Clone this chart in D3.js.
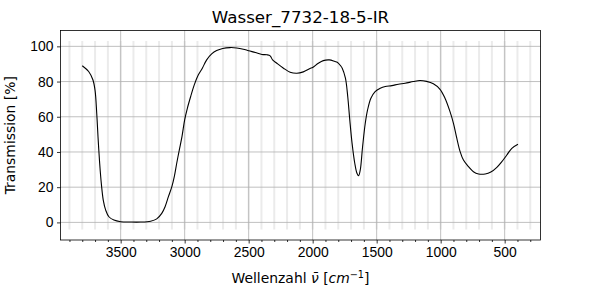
<!DOCTYPE html>
<html>
<head>
<meta charset="utf-8">
<script src="https://cdn.jsdelivr.net/npm/d3@7"></script>
<style>
  body { margin: 0; background: #fff; }
  svg { font-family: "DejaVu Sans", sans-serif; }
  .ir-axis text { font-size: 13.9px; fill: #000; }
  .ir-axis path, .ir-axis line { stroke: #000; stroke-width: 0.8; }
</style>
</head>
<body>
<svg id="chart" width="600" height="300"></svg>
<script>
// spectrum
var wavenumbers = [3800, 3750, 3717, 3700, 3687, 3677, 3664, 3651, 3636, 3617, 3592, 3553,
  3500, 3423, 3344, 3266, 3218, 3179, 3153, 3127, 3100, 3081, 3062, 3042, 3021, 3000,
  2979, 2953, 2925, 2893, 2862, 2828, 2789, 2750, 2703, 2646, 2594, 2542, 2500, 2448,
  2396, 2357, 2332, 2313, 2280, 2228, 2176, 2124, 2073, 2021, 2000, 1956, 1917, 1870,
  1826, 1808, 1782, 1769, 1744, 1726, 1710, 1692, 1671, 1654, 1641, 1628, 1610, 1589,
  1571, 1545, 1512, 1472, 1433, 1381, 1330, 1278, 1214, 1162, 1110, 1057, 1005, 966,
  927, 900, 874, 848, 822, 783, 744, 704, 652, 608, 561, 522, 483, 444, 396];
var transmission = [89, 85.7, 81, 75, 62, 48.7, 33.6, 22, 12.7, 7, 3.2, 1.3,
  0.4, 0.2, 0.2, 0.7, 2.0, 5.1, 8.9, 14.6, 20.3, 26, 33.6, 41.1, 48.7, 58.2,
  64.8, 71.5, 78.1, 83.8, 87.6, 92.3, 95.7, 97.6, 98.8, 99.3, 99.1, 98.4, 97.5, 96.5,
  95.4, 95.2, 94.6, 92.3, 90.4, 87.6, 85.3, 84.7, 85.5, 87.4, 88, 90.4, 91.9, 92.3,
  91.4, 91, 89, 87.6, 81.9, 71.5, 58.2, 44.9, 33.6, 27.9, 26.5, 29.8, 43, 56.3,
  63.9, 70.5, 74.3, 76.2, 77.2, 77.7, 78.5, 79, 80, 80.6, 80.1, 78.7, 75.6, 70.5,
  62.9, 56.3, 47.8, 40.2, 35.4, 31.7, 28.8, 27.5, 27.5, 28.6, 31.3, 34.5, 38.3, 42.1, 44.4];

var xTicks = [3500, 3000, 2500, 2000, 1500, 1000, 500];
var xMinorTicks = d3.range(300, 4000, 100);
var yTicks = [0, 20, 40, 60, 80, 100];

function drawSpectrum() {
  var svg = d3.select('#chart');
  var left = 60.5, right = 540.5, plotTop = 30.5, bottom = 240;

  var x = d3.scaleLinear().domain([3970, 220]).range([left, right]);
  var y = d3.scaleLinear().domain([-10, 109]).range([bottom, plotTop]);

  var data = wavenumbers.map(function(w, i) { return [w, transmission[i]]; });

  // light helper lines every 100 cm^-1 (5%..95% of the axes height)
  var hTop = plotTop + (bottom - plotTop) * 0.05, hBottom = bottom - (bottom - plotTop) * 0.05;
  svg.append('g').selectAll('line').data(xMinorTicks).enter()
    .append('line')
    .attr('x1', function(d) { return x(d); })
    .attr('x2', function(d) { return x(d); })
    .attr('y1', hTop)
    .attr('y2', hBottom)
    .attr('stroke', '#ebebeb')
    .attr('stroke-width', 2);

  // major grid
  var grid = svg.append('g').attr('stroke', '#b0b0b0').attr('stroke-width', 0.8);
  xTicks.forEach(function(t) {
    grid.append('line').attr('x1', x(t)).attr('x2', x(t)).attr('y1', plotTop).attr('y2', bottom);
  });
  yTicks.forEach(function(t) {
    grid.append('line').attr('x1', left).attr('x2', right).attr('y1', y(t)).attr('y2', y(t));
  });

  // spectrum
  var line = d3.line()
    .curve(d3.curveCatmullRom.alpha(0.5))
    .x(function(d) { return x(d[0]); })
    .y(function(d) { return y(d[1]); });

  svg.append('path').datum(data)
    .attr('d', line)
    .attr('fill', 'none')
    .attr('stroke', '#000')
    .attr('stroke-width', 1.1);

  // axes
  svg.append('g')
    .attr('class', 'ir-axis')
    .attr('transform', 'translate(0,' + bottom + ')')
    .call(d3.axisBottom(x).tickValues(xMinorTicks.filter(function(t) { return t % 500 !== 0; }))
      .tickSize(2).tickFormat(''))
    .call(function(g) { g.select('.domain').remove(); });

  svg.append('g')
    .attr('class', 'ir-axis')
    .attr('transform', 'translate(0,' + bottom + ')')
    .call(d3.axisBottom(x).tickValues(xTicks).tickSize(3.5).tickPadding(3.5).tickFormat(d3.format('d')))
    .call(function(g) { g.select('.domain').remove(); });

  svg.append('g')
    .attr('class', 'ir-axis')
    .attr('transform', 'translate(' + left + ',0)')
    .call(d3.axisLeft(y).tickValues(yTicks).tickSize(3.5).tickPadding(3.5).tickFormat(d3.format('d')))
    .call(function(g) { g.select('.domain').remove(); });

  // frame
  svg.append('rect')
    .attr('x', left).attr('y', plotTop)
    .attr('width', right - left).attr('height', bottom - plotTop)
    .attr('fill', 'none').attr('stroke', '#000').attr('stroke-width', 0.8);

  // texts
  svg.append('text')
    .attr('x', (left + right) / 2).attr('y', 23)
    .attr('text-anchor', 'middle')
    .style('font-size', '16.7px')
    .text('Wasser_7732-18-5-IR');

  var xl = svg.append('text')
    .attr('x', (left + right) / 2).attr('y', 283)
    .attr('text-anchor', 'middle')
    .style('font-size', '13.9px');
  xl.append('tspan').text('Wellenzahl ');
  xl.append('tspan').style('font-style', 'italic').text('\u03bd\u0304');
  xl.append('tspan').text(' [');
  xl.append('tspan').style('font-style', 'italic').text('cm');
  xl.append('tspan').attr('dy', -5).style('font-size', '9.7px').text('\u22121');
  xl.append('tspan').attr('dy', 5).text(']');

  svg.append('text')
    .attr('transform', 'translate(15,' + ((plotTop + bottom) / 2) + ') rotate(-90)')
    .attr('text-anchor', 'middle')
    .style('font-size', '13.9px')
    .text('Transmission [%]');
}

drawSpectrum();
</script>
</body>
</html>
